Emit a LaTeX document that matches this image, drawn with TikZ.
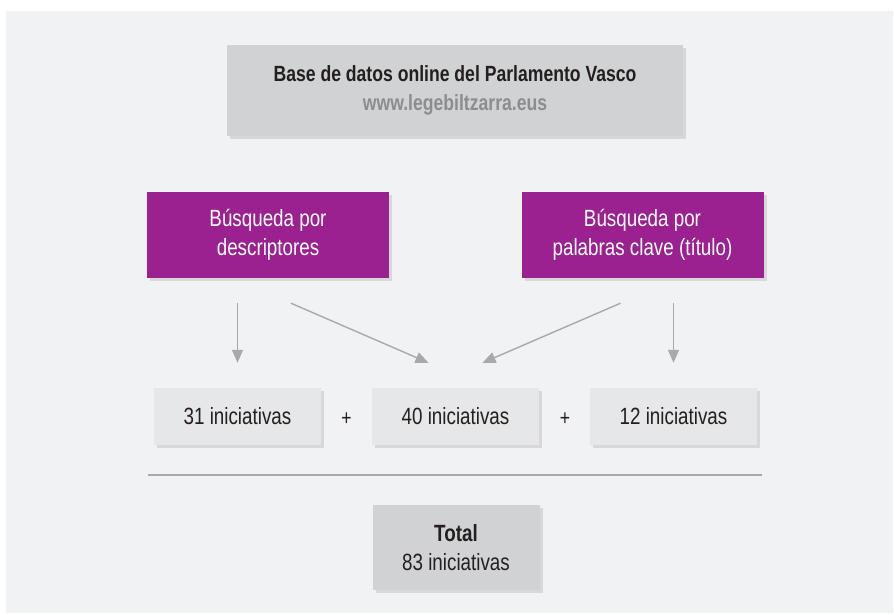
\documentclass[tikz,border=0pt]{standalone}
\usepackage{fontspec}
\setmainfont{Liberation Sans}[FakeStretch=0.8]
\usetikzlibrary{arrows.meta,shadows}
\definecolor{panelgray}{HTML}{F1F2F4}
\definecolor{boxgray}{HTML}{D1D2D4}
\definecolor{lightbox}{HTML}{E6E7E8}
\definecolor{lila}{HTML}{9B2190}
\definecolor{arrowgray}{HTML}{A7A9AC}
\definecolor{urlgray}{HTML}{8C8D90}
\definecolor{ink}{HTML}{231F20}
\begin{document}
\begin{tikzpicture}[x=1pt,y=-1pt,ink,
box/.style={inner sep=0pt, align=center, font=\fontsize{23.5}{29}\selectfont,
  drop shadow={opacity=0.22, shadow xshift=3pt, shadow yshift=-3pt}},
source/.style={box, fill=boxgray, minimum width=456pt, minimum height=91pt,
  font=\fontsize{22}{29}\selectfont},
search/.style={box, fill=lila, text=white, minimum width=242pt, minimum height=86pt},
result/.style={box, fill=lightbox, minimum width=167pt, minimum height=57pt},
total/.style={box, fill=boxgray, minimum width=167pt, minimum height=85pt},
sign/.style={font=\fontsize{22}{24}\selectfont},
arr/.style={draw=arrowgray, line width=1.4pt, -{Triangle[width=11pt,length=13pt]}},
]
\useasboundingbox (0,0) rectangle (894,614);
\fill[white] (0,0) rectangle (894,614);
\fill[panelgray] (6,11) rectangle (893,613);

\node[source] (db) at (455,90.5) {\textbf{Base de datos online del Parlamento Vasco}\\
  \textcolor{urlgray}{\textbf{www.legebiltzarra.eus}}};

\node[search] (desc) at (268,235) {Búsqueda por\\descriptores};
\node[search] (clave) at (642.5,235) {Búsqueda por\\palabras clave (título)};

\node[result] (n31) at (237.5,416.5) {31 iniciativas};
\node[result] (n40) at (455.5,416.5) {40 iniciativas};
\node[result] (n12) at (673.5,416.5) {12 iniciativas};
\node[sign] (plus1) at (346.5,419) {+};
\node[sign] (plus2) at (565,419) {+};

\draw[arr] ([yshift=-25pt]desc.south -| n31.north) -- ([yshift=25pt]n31.north);
\draw[arr] ([xshift=23pt,yshift=-25pt]desc.south) -- ([xshift=-27pt,yshift=25pt]n40.north);
\draw[arr] ([xshift=-22pt,yshift=-25pt]clave.south) -- ([xshift=27pt,yshift=25pt]n40.north);
\draw[arr] ([yshift=-25pt]clave.south -| n12.north) -- ([yshift=25pt]n12.north);

% rule
\draw[arrowgray, line width=1.6pt] (148,475) -- (762,475);

\node[total] (sum) at (456,547.5) {\textbf{Total}\\83 iniciativas};
\end{tikzpicture}
\end{document}
